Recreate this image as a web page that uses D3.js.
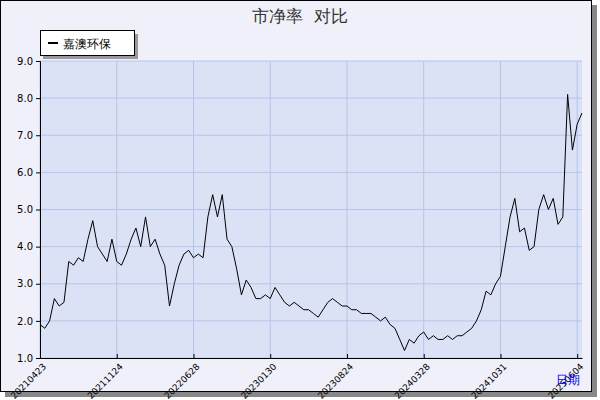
<!DOCTYPE html>
<html><head><meta charset="utf-8">
<script src="https://cdn.jsdelivr.net/npm/d3@7"></script>
<style>body{margin:0;background:#fff}text{font-family:"DejaVu Sans",sans-serif}</style>
</head><body><svg id="c" width="600" height="400"></svg>
<script>
// tick labels, one per 16 samples
var tickLabels = ['20210423','20211124','20220628','20230130','20230824','20240328','20241031','20250604'];
// 市净率 samples (7 segments of 16 + 2 tail)
var pb = [
  1.9,1.8,2.0,2.6,2.4,2.5,3.6,3.5,3.7,3.6,4.2,4.7,4.0,3.8,3.6,4.2,
  3.6,3.5,3.8,4.2,4.5,4.0,4.8,4.0,4.2,3.8,3.5,2.4,3.0,3.5,3.8,3.9,
  3.7,3.8,3.7,4.8,5.4,4.8,5.4,4.2,4.0,3.4,2.7,3.1,2.9,2.6,2.6,2.7,
  2.6,2.9,2.7,2.5,2.4,2.5,2.4,2.3,2.3,2.2,2.1,2.3,2.5,2.6,2.5,2.4,
  2.4,2.3,2.3,2.2,2.2,2.2,2.1,2.0,2.1,1.9,1.8,1.5,1.2,1.5,1.4,1.6,
  1.7,1.5,1.6,1.5,1.5,1.6,1.5,1.6,1.6,1.7,1.8,2.0,2.3,2.8,2.7,3.0,
  3.2,4.0,4.8,5.3,4.4,4.5,3.9,4.0,5.0,5.4,5.0,5.3,4.6,4.8,8.1,6.6,
  7.3,7.6
];
var yTicks = [1,2,3,4,5,6,7,8,9];
var seriesName = '嘉澳环保';

var svg = d3.select('#c');
// frame with shadow
svg.append('rect').attr('x',5).attr('y',5).attr('width',592).attr('height',392).attr('fill','#888');
svg.append('rect').attr('x',0.5).attr('y',0.5).attr('width',591).attr('height',391).attr('fill','#f0f0fa').attr('stroke','#000');

var L=40, R=582, T=61, B=358;
var x = d3.scaleLinear().domain([0, pb.length-1]).range([L,R]);
var y = d3.scaleLinear().domain([1,9]).range([B,T]);

svg.append('rect').attr('x',L).attr('y',T).attr('width',R-L).attr('height',B-T).attr('fill','#dce2f6');

var g = svg.append('g');
g.selectAll('.hg').data(yTicks).enter().append('line')
  .attr('x1',L).attr('x2',R).attr('y1',d=>y(d)).attr('y2',d=>y(d)).attr('stroke','#b4c4ea');
g.selectAll('.vg').data(tickLabels).enter().append('line')
  .attr('x1',(d,i)=>x(i*16)).attr('x2',(d,i)=>x(i*16)).attr('y1',T).attr('y2',B).attr('stroke','#b4c4ea');

// axes
svg.append('g').attr('transform','translate('+L+',0)')
  .call(d3.axisLeft(y).tickValues(yTicks).tickFormat(d3.format('.1f')).tickSize(4))
  .call(a=>{a.select('.domain').attr('stroke','#000');a.selectAll('text').attr('font-size',10).attr('fill','#000');});
svg.append('g').attr('transform','translate(0,'+B+')')
  .call(d3.axisBottom(x).tickValues(tickLabels.map((d,i)=>i*16)).tickFormat((d,i)=>tickLabels[i]).tickSize(-4).tickSizeOuter(0))
  .call(a=>{a.selectAll('text').attr('font-size',9).attr('fill','#000')
     .attr('text-anchor','end').attr('dx','-2').attr('dy','8').attr('transform','rotate(-45)');});

svg.append('path').datum(pb)
  .attr('d', d3.line().x((d,i)=>x(i)).y(d=>y(d)))
  .attr('fill','none').attr('stroke','#000').attr('stroke-width',1);

// title
svg.append('text').attr('x',300).attr('y',22).attr('text-anchor','middle').attr('font-size',17).attr('fill','#333').text('市净率\u00a0\u00a0对比');

// legend
svg.append('rect').attr('x',43).attr('y',34).attr('width',95).attr('height',25).attr('fill','#999');
svg.append('rect').attr('x',40.5).attr('y',30.5).attr('width',94).attr('height',25).attr('fill','#fff').attr('stroke','#000');
svg.append('line').attr('x1',48).attr('x2',58).attr('y1',43).attr('y2',43).attr('stroke','#000').attr('stroke-width',2);
svg.append('text').attr('x',63).attr('y',48).attr('font-size',12).text(seriesName);

svg.append('text').attr('x',580).attr('y',384).attr('text-anchor','end').attr('font-size',12).attr('fill','#0000ee').text('日期');
</script></body></html>
